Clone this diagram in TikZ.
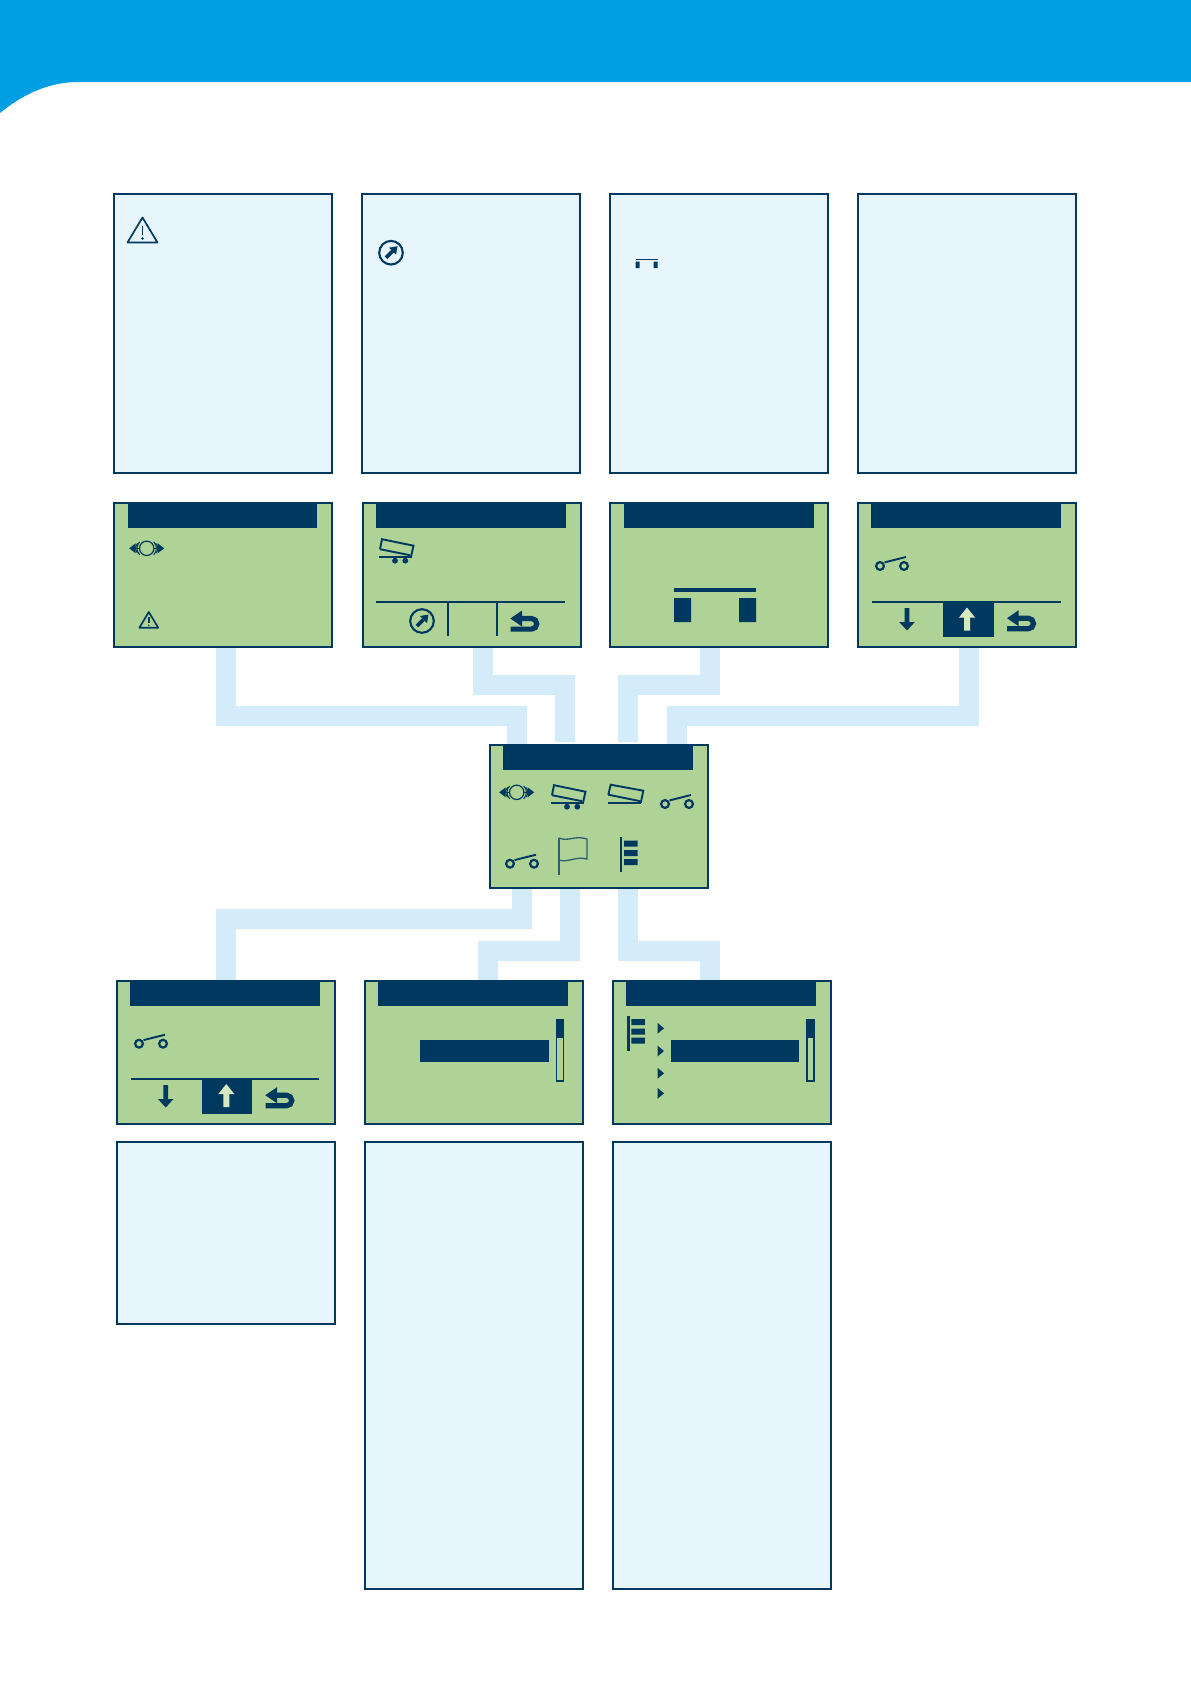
\documentclass[tikz,border=0pt]{standalone}
\usetikzlibrary{backgrounds}
\definecolor{banner}{HTML}{009FE3}
\definecolor{navy}{HTML}{00395F}
\definecolor{lcd}{HTML}{AFD296}
\definecolor{panel}{HTML}{E7F5FD}
\definecolor{linkc}{HTML}{D4EBFA}
\definecolor{pale}{HTML}{D5E8C2}
\tikzset{
  framed/.style={draw=navy,line width=2pt,inner sep=0pt,outer sep=0pt,anchor=north west,minimum width=218pt},
  screen/.style={framed,fill=lcd,minimum height=143.5pt},
  textpanel/.style={framed,fill=panel},
  hdr/.style={fill=navy,inner sep=0pt,outer sep=0pt,anchor=north,minimum width=189.5pt,minimum height=25.5pt},
  link/.style={draw=linkc,line width=20pt,line cap=butt,line join=miter},
  rule/.style={draw=navy,line width=1.7pt},
  swicon/.pic={
    \draw[navy,line width=2.2pt] (0,0) circle[radius=3.9] (24,0) circle[radius=3.9];
    \draw[navy,line width=1.9pt] (4.5,-3.6) -- (26,-9);
  },
  retarrow/.pic={
    \fill[navy] (0.3,7.5) -- (12,-0.5) -- (12,15.5) -- cycle;
    \draw[navy,line width=5.2pt] (11,7.5) -- (21.5,7.5) arc[start angle=-90,end angle=90,radius=5.3] -- (0.5,18.1);
  },
  downarrow/.pic={
    \fill[navy] (-2.4,0) -- (2.4,0) -- (2.4,14) -- (7.8,14) -- (0,22.5) -- (-7.8,14) -- (-2.4,14) -- cycle;
  },
  uparrow/.pic={
    \fill[pale] (0,0) -- (8,10) -- (3,10) -- (3,23) -- (-3,23) -- (-3,10) -- (-8,10) -- cycle;
  },
  circarrow/.pic={
    \draw[navy,line width=2.1pt] (0,0) circle[radius=11.8];
    \draw[navy,line width=3.6pt] (-5,5) -- (1.5,-1.5);
    \fill[navy] (6.5,-6.5) -- (-2,-5) -- (5,2) -- cycle;
  },
  warnicon/.pic={
    \draw[navy,line width=1.7pt,line join=round] (0,0) -- (15,25) -- (-15,25) -- cycle;
    \draw[navy,line width=1.5pt] (0,8.5) -- (0,17.5);
    \fill[navy] (0,21) circle[radius=1.3];
  },
  axleicon/.pic={
    \draw[navy,line width=1.2pt] (0,0) circle[radius=7.2];
    \draw[navy,line width=1.2pt] (-7.2,0) -- (-11,0) (7.2,0) -- (11,0);
    \draw[navy,line width=1pt] (-7,-6.5) arc[start angle=225,end angle=135,radius=9.2];
    \draw[navy,line width=1pt] (7,-6.5) arc[start angle=-45,end angle=45,radius=9.2];
    \draw[navy,line width=1pt] (-9,-5) arc[start angle=225,end angle=135,radius=7];
    \draw[navy,line width=1pt] (9,-5) arc[start angle=-45,end angle=45,radius=7];
    \fill[navy] (-17.5,0) -- (-11,-5) -- (-11,5) -- cycle;
    \fill[navy] (17.5,0) -- (11,-5) -- (11,5) -- cycle;
  },
  trailericon/.pic={
    \draw[navy,line width=1.9pt,line join=miter] (1,-7.5) -- (3,-17.5) -- (34.5,-11) -- (32,0) ;
    \draw[navy,line width=1.9pt] (1,-7.5) -- (31,-1.5);
    \draw[navy,line width=2pt] (0,0) -- (33,0);
    \fill[navy] (16,4) circle[radius=2.9] (26.3,4) circle[radius=2.9];
  },
  tilticon/.pic={
    \draw[navy,line width=1.9pt,line join=miter] (0,-8) -- (2.4,-18) -- (35,-12) -- (32.5,0);
    \draw[navy,line width=1.9pt] (0,-8) -- (32,-1.5);
    \draw[navy,line width=2pt] (0,0) -- (32.5,0);
  },
  flagicon/.pic={
    \draw[navy!75!lcd,line width=1.3pt] (0,0) -- (0,37);
    \draw[navy!75!lcd,line width=1.3pt] (0,0) .. controls (9,4) and (16,-3) .. (28,1) -- (28,21) .. controls (16,18) and (9,25) .. (0,22);
  },
  menuicon/.pic={
    \fill[navy] (-1.3,0) rectangle (1.3,35);
    \fill[navy] (3,3.5) rectangle (16.5,9.5) (3,13) rectangle (16.5,19) (3,22) rectangle (16.5,28);
  },
  markicon/.pic={
    \fill[navy] (0,-5.5) -- (6.5,0) -- (0,5.5) -- cycle;
  },
}
\begin{document}
\begin{tikzpicture}[x=1pt,y=-1pt]
\useasboundingbox (0,0) rectangle (1191,1684);
\fill[banner] (0,0) -- (1191,0) -- (1191,82) -- (78,82) .. controls (48,82) and (22,95) .. (0,113) -- cycle;

% text panels, top row
\node[textpanel,minimum height=279pt] (t1) at (114,194) {};
\node[textpanel,minimum height=279pt] (t2) at (362,194) {};
\node[textpanel,minimum height=279pt] (t3) at (610,194) {};
\node[textpanel,minimum height=279pt] (t4) at (858,194) {};
\pic at (142.5,217.5) {warnicon};
\pic at (391,252.7) {circarrow};
\fill[navy] (635.5,258.6) rectangle (657.5,260);
\fill[navy] (635.5,261.7) rectangle (639.5,268) (653.5,261.7) rectangle (657.5,268);

% screens, top row
\node[screen] (s1) at (114,503) {};
\node[screen] (s2) at (363,503) {};
\node[screen] (s3) at (610,503) {};
\node[screen] (s4) at (858,503) {};
\node[hdr] (hs1) at ([xshift=-.5pt,yshift=.5pt]s1.north) {};
\node[hdr] (hs2) at ([xshift=-1pt,yshift=.5pt]s2.north) {};
\node[hdr] (hs3) at ([yshift=.5pt]s3.north) {};
\node[hdr] (hs4) at ([xshift=-1pt,yshift=.5pt]s4.north) {};
\pic at (146.7,548.3) {axleicon};
\pic[scale=.63] at (148.8,612) {warnicon};
\pic at (379,556.7) {trailericon};
\draw[rule] (376,602) -- (565,602);
\draw[rule] (448,602) -- (448,636);
\draw[rule] (497,602) -- (497,636);
\pic at (422,621) {circarrow};
\pic at (510,611) {retarrow};
\fill[navy] (674,588) rectangle (756,592);
\fill[navy] (674,598) rectangle (691,622) (739,598) rectangle (756,622);
\pic at (880,566) {swicon};
\draw[rule] (872,602) -- (1061,602);
\fill[navy] (943,602) rectangle (994,637);
\pic at (907,608) {downarrow};
\pic at (967,607.5) {uparrow};
\pic at (1006.7,610.7) {retarrow};

% central screen
\node[screen,minimum height=143pt] (ctr) at (490,745) {};
\node[hdr] (hctr) at ([xshift=-1pt,yshift=.5pt]ctr.north) {};
\pic at (516.7,792.3) {axleicon};
\pic at (551,802.7) {trailericon};
\pic at (608.3,802.7) {tilticon};
\pic at (665,804) {swicon};
\pic at (510,863.7) {swicon};
\pic at (559,838) {flagicon};
\pic at (621,837) {menuicon};

% screens, bottom row
\node[screen,minimum height=143pt] (a) at (117,980.5) {};
\node[screen,minimum height=143pt] (b) at (365,980.5) {};
\node[screen,minimum height=143pt] (c) at (613,980.5) {};
\node[hdr] (ha) at ([xshift=-1pt,yshift=.5pt]a.north) {};
\node[hdr] (hb) at ([xshift=-1pt,yshift=.5pt]b.north) {};
\node[hdr] (hc) at ([xshift=-1pt,yshift=.5pt]c.north) {};
\pic at (139,1043.7) {swicon};
\draw[rule] (131,1079) -- (319,1079);
\fill[navy] (202,1079) rectangle (252,1113.7);
\pic at (165.7,1085) {downarrow};
\pic at (226.3,1084) {uparrow};
\pic at (265,1087.7) {retarrow};
\fill[navy] (420,1040) rectangle (549,1062);
\draw[navy,line width=1.6pt] (556.5,1019.8) rectangle (563.5,1081);
\fill[navy] (556,1019) rectangle (564,1038);
\fill[navy] (671,1040) rectangle (799,1062);
\draw[navy,line width=1.6pt] (806.8,1019.8) rectangle (813.8,1081);
\fill[navy] (806,1019) rectangle (814,1038);
\pic at (628.3,1015.5) {menuicon};
\foreach \yy in {1028.3,1051,1073.3,1093.3}{\pic at (657.5,\yy) {markicon};}

% text panels, bottom row
\node[textpanel,minimum height=182pt] (ta) at (117,1142) {};
\node[textpanel,minimum height=447pt] (tb) at (365,1142) {};
\node[textpanel,minimum height=447pt] (tc) at (613,1142) {};

% connectors
\begin{scope}[on background layer]
\draw[link] ([xshift=3pt]s1.south) -- ++(0,69.5) -| ([xshift=-82.2pt]ctr.north);
\draw[link,shorten >=3pt] ([xshift=10.5pt]s2.south) -- ++(0,38.5) -| ([xshift=-34pt]ctr.north);
\draw[link,shorten >=3pt] ([xshift=-8.8pt]s3.south) -- ++(0,38.5) -| ([xshift=29pt]ctr.north);
\draw[link] ([xshift=2pt]s4.south) -- ++(0,69.5) -| ([xshift=78pt]ctr.north);
\draw[link] ([xshift=-77pt]ctr.south) -- ++(0,31) -| ([xshift=-.25pt]a.north);
\draw[link] ([xshift=-29pt]ctr.south) -- ++(0,63) -| ([xshift=14pt]b.north);
\draw[link] ([xshift=29pt]ctr.south) -- ++(0,63) -| ([xshift=-12pt]c.north);
\end{scope}
\end{tikzpicture}
\end{document}
